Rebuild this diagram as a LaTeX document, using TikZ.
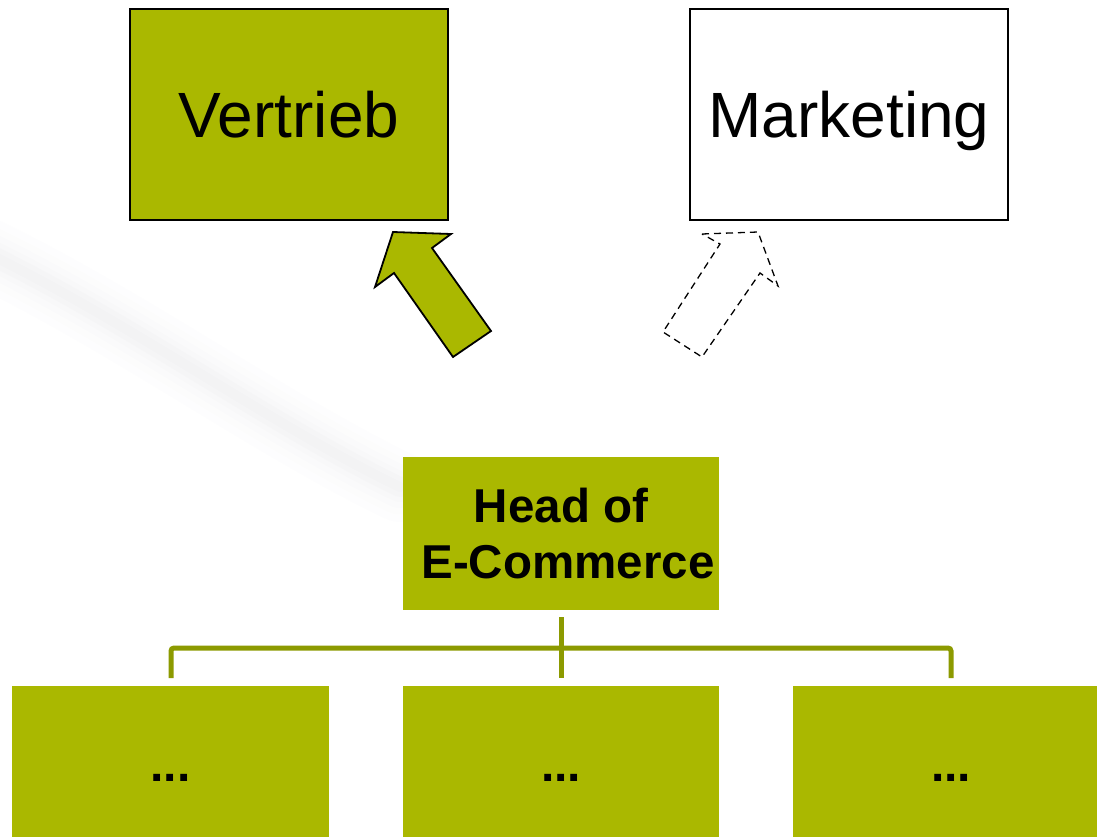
\documentclass[tikz,border=0pt]{standalone}
\usepackage{fontspec}
\setmainfont{Liberation Sans}
\definecolor{ecolive}{RGB}{170,184,0}
\definecolor{ecline}{RGB}{140,154,0}
\definecolor{swoosh}{RGB}{205,205,212}
\begin{document}
\begin{tikzpicture}[x=1pt,y=-1pt,
  topbox/.style={draw=black, line width=1.6pt, inner sep=0pt, minimum width=318pt, minimum height=211pt,
     font=\fontsize{64}{72}\selectfont, text height=46pt, text depth=0pt},
  greenbox/.style={fill=ecolive, inner sep=0pt, minimum height=152pt},
  dots/.style={font=\bfseries\fontsize{48}{54}\selectfont, text height=38pt, text depth=0pt},
  conn/.style={draw=ecline, line width=5pt, rounded corners=3pt},
  bigarrow/.style={fill=ecolive, draw=black, line width=1.8pt, line join=miter},
  ghostarrow/.style={draw=black, line width=1.3pt, dash pattern=on 7pt off 5pt}
]
\useasboundingbox (0,0) rectangle (1097,837);
% faint background swoosh
\foreach \w/\o in {70/0.03,55/0.035,42/0.04,30/0.05,20/0.06,10/0.06}{
  \draw[swoosh, line width=\w pt, opacity=\o, line cap=round]
    (-30,245) .. controls (120,315) and (270,425) .. (400,487);
}

% top boxes
\node[topbox, fill=ecolive] (vertrieb) at (289,114.5) {Vertrieb};
\node[topbox, fill=white] (marketing) at (849,114.5) {Marketing};

% head box
\node[greenbox, minimum width=316pt, minimum height=153pt, align=center,
      font=\bfseries\fontsize{47.5}{56}\selectfont] (head) at (561,533.5) {Head of\\ \hspace*{14pt}E-Commerce};

% bottom boxes
\node[greenbox, minimum width=317pt, dots] (b1) at (170.5,762) {...};
\node[greenbox, minimum width=316pt, dots] (b2) at (561,762) {...};
\node[greenbox, minimum width=316pt, dots] (b3) at (951,762) {...};

% connectors
\coordinate (hb) at (561,617);
\coordinate (hj) at (561,648);
\coordinate (c1) at (171,678);
\coordinate (c2) at (561,678);
\coordinate (c3) at (951,678);
\draw[conn] (hb) -- (c2);
\draw[conn] (c1) |- (hj) -| (c3);

% arrows
\draw[bigarrow] (393,232) -- (451,234) -- (432,248) -- (491,331) -- (453,357)
  -- (394,273) -- (375,287) -- cycle;
\draw[ghostarrow] (702,234) -- (758,232) -- (778,286) -- (760,273) -- (702,357)
  -- (663,332) -- (720,244) -- cycle;
\end{tikzpicture}
\end{document}
